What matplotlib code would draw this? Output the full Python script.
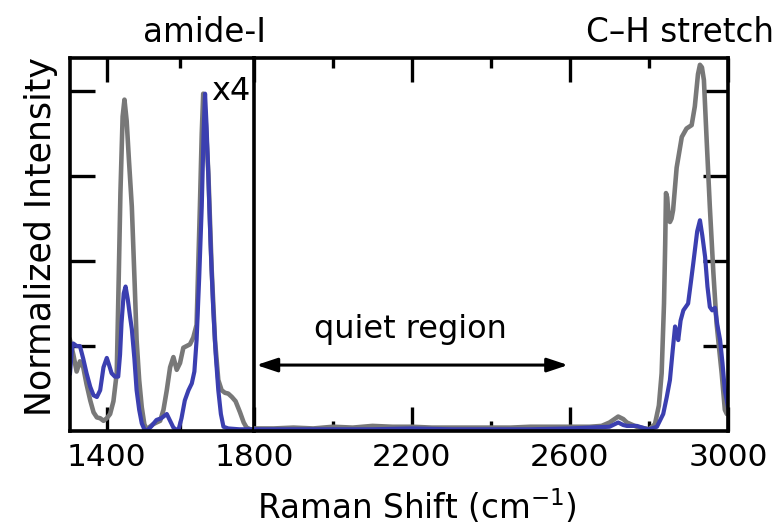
import matplotlib
matplotlib.use('Agg')
import matplotlib.pyplot as plt

#Left panel (amide region, shown x4) - wavenumber and intensity of each trace
gray_left_x = [1300, 1309, 1318, 1327, 1336, 1345, 1355, 1364, 1373, 1382, 1391, 1400, 1409, 1418, 1427,
               1431, 1437, 1443, 1448, 1454, 1460, 1468, 1476, 1481, 1488, 1495, 1502, 1508, 1517, 1526,
               1535, 1545, 1554, 1563, 1572, 1581, 1590, 1599, 1608, 1617, 1626, 1635, 1644, 1653, 1658,
               1662, 1668, 1676, 1685, 1694, 1703, 1712, 1721, 1730, 1740, 1750, 1762, 1772, 1780, 1790, 1800]
gray_left_y = [1.07, 0.90, 0.70, 0.82, 0.75, 0.55, 0.36, 0.22, 0.16, 0.15, 0.12, 0.15, 0.20, 0.35, 0.68,
               1.50, 2.80, 3.70, 3.90, 3.65, 3.20, 2.64, 1.70, 1.07, 0.60, 0.28, 0.08, 0.02, 0.05, 0.08,
               0.10, 0.12, 0.25, 0.48, 0.75, 0.87, 0.72, 0.80, 0.98, 1.00, 1.02, 1.10, 1.25, 2.64, 3.50,
               3.97, 3.70, 3.03, 1.90, 1.07, 0.60, 0.48, 0.45, 0.44, 0.40, 0.35, 0.22, 0.10, 0.04, 0.02, 0.02]

blue_left_x = [1300, 1305, 1309, 1318, 1327, 1336, 1345, 1355, 1364, 1373, 1382, 1391, 1400, 1406, 1413,
               1422, 1431, 1436, 1440, 1446, 1451, 1457, 1463, 1468, 1475, 1481, 1488, 1495, 1502, 1508,
               1520, 1535, 1548, 1563, 1572, 1581, 1594, 1603, 1612, 1622, 1631, 1638, 1644, 1651, 1658,
               1663, 1667, 1671, 1676, 1682, 1689, 1696, 1703, 1710, 1717, 1730, 1760, 1800]
blue_left_y = [0.68, 0.95, 1.03, 1.00, 1.00, 0.85, 0.68, 0.52, 0.42, 0.40, 0.48, 0.75, 0.86, 0.78, 0.68,
               0.64, 0.64, 0.90, 1.27, 1.62, 1.70, 1.55, 1.35, 1.20, 0.85, 0.48, 0.25, 0.09, 0.02, 0.00,
               0.05, 0.13, 0.15, 0.20, 0.12, 0.04, 0.00, 0.15, 0.36, 0.48, 0.56, 0.70, 1.07, 1.80, 2.64,
               3.50, 3.97, 3.60, 3.00, 2.20, 1.46, 0.90, 0.48, 0.20, 0.05, 0.03, 0.02, 0.02]

#Right panel (quiet region + C-H stretch)
gray_right_x = [1800, 1850, 1900, 1950, 2000, 2050, 2100, 2150, 2200, 2250, 2300, 2350, 2400, 2450, 2500,
                2550, 2600, 2650, 2680, 2700, 2722, 2735, 2744, 2769, 2800, 2815, 2825, 2832, 2838, 2841,
                2843, 2846, 2850, 2853, 2857, 2861, 2870, 2883, 2895, 2908, 2916, 2924, 2929, 2934, 2939,
                2946, 2954, 2963, 2971, 2978, 2984, 2992, 2997, 3000]
gray_right_y = [0.03, 0.03, 0.04, 0.03, 0.05, 0.04, 0.06, 0.05, 0.05, 0.04, 0.04, 0.04, 0.04, 0.04, 0.05,
                0.05, 0.05, 0.05, 0.06, 0.10, 0.17, 0.14, 0.10, 0.05, 0.02, 0.08, 0.30, 0.68, 1.50, 2.20,
                2.80, 2.75, 2.50, 2.46, 2.50, 2.60, 3.10, 3.46, 3.56, 3.60, 3.82, 4.20, 4.31, 4.28, 4.13,
                3.42, 2.64, 1.86, 1.27, 0.95, 0.68, 0.25, 0.20, 0.20]

blue_right_x = [1800, 1900, 2000, 2100, 2200, 2300, 2400, 2500, 2600, 2650, 2700, 2722, 2735, 2744, 2769,
                2790, 2800, 2820, 2836, 2845, 2853, 2860, 2866, 2870, 2874, 2880, 2887, 2899, 2906, 2912,
                2922, 2929, 2935, 2942, 2948, 2954, 2960, 2967, 2973, 2980, 2986, 2992, 3000]
blue_right_y = [0.02, 0.02, 0.02, 0.02, 0.03, 0.02, 0.02, 0.02, 0.03, 0.04, 0.05, 0.10, 0.07, 0.06, 0.06,
                0.03, 0.02, 0.05, 0.20, 0.40, 0.60, 0.95, 1.23, 1.15, 1.07, 1.30, 1.42, 1.50, 1.75, 1.97,
                2.35, 2.48, 2.30, 2.05, 1.70, 1.46, 1.42, 1.45, 1.25, 1.07, 0.80, 0.48, 0.28]

#Tick positions and labels
left_major = [1400]
left_minor = [1600]
right_major = [1800, 2200, 2600, 3000]
right_minor = [2000, 2400, 2800]
y_ticks = [1, 2, 3, 4]

gray = '#787878'
blue = '#3b3fb0'
ymax = 4.39

fig = plt.figure(figsize=(7.81, 5.27), dpi=100)
ax1 = fig.add_axes([70/781, 1-431/527, 184/781, 373/527])
ax2 = fig.add_axes([254/781, 1-431/527, 474/781, 373/527])
#transparent background so the divider (ax1 right spine) is not half covered
ax2.patch.set_visible(False)

ax1.plot(gray_left_x, gray_left_y, color=gray, lw=3.3)
ax1.plot(blue_left_x, blue_left_y, color=blue, lw=3.0)
ax2.plot(gray_right_x, gray_right_y, color=gray, lw=3.3)
ax2.plot(blue_right_x, blue_right_y, color=blue, lw=3.0)

ax1.set_xlim(1300, 1800)
ax2.set_xlim(1800, 3000)
for ax in (ax1, ax2):
    ax.set_ylim(0, ymax)
    ax.set_yticks(y_ticks)
    ax.set_yticklabels([])
    for s in ax.spines.values():
        s.set_linewidth(2.6)
    ax.tick_params(axis='x', which='both', direction='in', top=True, bottom=True, width=2.4)
    ax.tick_params(axis='x', which='major', length=17, pad=9, labelsize=22.5)
    ax.tick_params(axis='x', which='minor', length=7)
ax2.spines['left'].set_visible(False)

ax1.set_xticks(left_major)
ax1.set_xticks(left_minor, minor=True)
ax1.set_xticklabels([str(t) for t in left_major])
ax1.tick_params(axis='y', direction='in', left=True, right=False, length=18, width=2.4)

ax2.set_xticks(right_major)
ax2.set_xticks(right_minor, minor=True)
ax2.set_xticklabels([str(t) for t in right_major])
ax2.tick_params(axis='y', direction='in', left=False, right=True, length=18, width=2.4)

#quiet region arrow and labels
ax2.annotate('', xy=(1806, 0.776), xytext=(2595, 0.776),
             arrowprops=dict(arrowstyle='<|-|>,head_length=0.9,head_width=0.3', lw=2.2,
                             color='black', mutation_scale=14, shrinkA=0, shrinkB=0))
ax2.text(2195, 1.19, 'quiet region', fontsize=23, ha='center', va='center')
ax1.text(1790, 4.0, 'x4', fontsize=23, ha='right', va='center')

fig.text(205/781, 1-33/527, 'amide-I', fontsize=23.5, ha='center', va='center')
fig.text(680/781, 1-33/527, 'C–H stretch', fontsize=23.5, ha='center', va='center')
fig.text(417/781, 1-519/527, 'Raman Shift (cm$^{-1}$)', fontsize=23.5, ha='center', va='baseline')
fig.text(41/781, 1-237/527, 'Normalized Intensity', fontsize=25, rotation=90, ha='center', va='center')

fig.savefig('out.png', dpi=100)
